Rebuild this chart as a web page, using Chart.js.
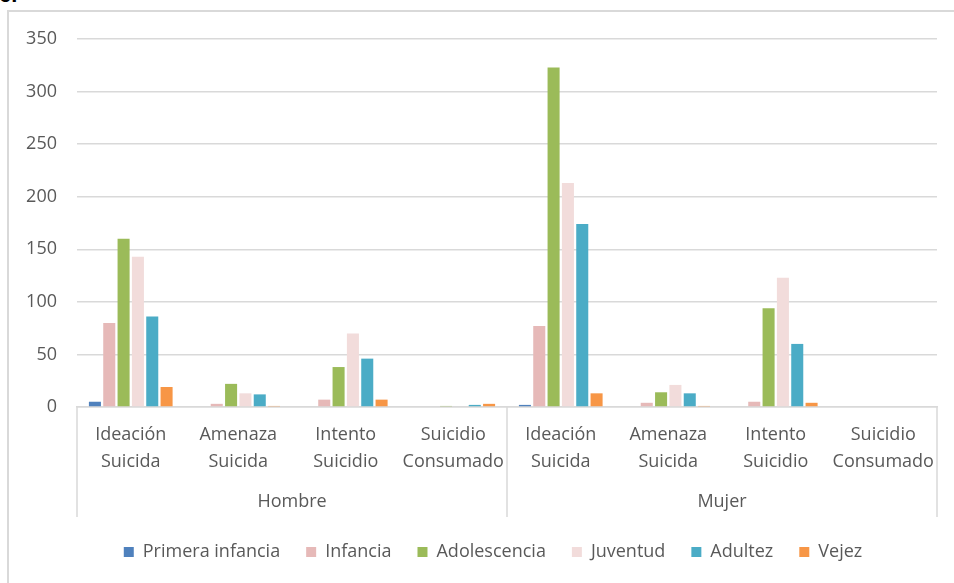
<!DOCTYPE html>
<html>
<head>
<meta charset="utf-8">
<script src="https://cdn.jsdelivr.net/npm/chart.js@4"></script>
<style>
    html, body { margin: 0; padding: 0; background: #ffffff; overflow: hidden; }
    #frame { position: absolute; left: 7px; top: 10px; width: 1100px; height: 700px; border-left: 2px solid #d9d9d9; border-top: 2px solid #d9d9d9; }
    #num { position: absolute; left: -1px; top: -18px; font: bold 22px "Liberation Sans", sans-serif; color: #000; }
    #wrap { position: absolute; left: 0; top: 0; width: 986px; height: 583px; }
</style>
</head>
<body>
<div id="num">6.</div>
<div id="frame"></div>
<div id="wrap"><canvas id="myChart"></canvas></div>
<script>
const categories = [
    ['Ideación', 'Suicida'], ['Amenaza', 'Suicida'], ['Intento', 'Suicidio'], ['Suicidio', 'Consumado'],
    ['Ideación', 'Suicida'], ['Amenaza', 'Suicida'], ['Intento', 'Suicidio'], ['Suicidio', 'Consumado'],
];
const groups = ['Hombre', 'Mujer'];

const primeraInfancia = [5, 0, 0, 0, 2, 0, 0, 0];
const infancia = [80, 3, 7, 0, 77, 4, 5, 0];
const adolescencia = [160, 22, 38, 1, 323, 14, 94, 0];
const juventud = [143, 13, 70, 0, 213, 21, 123, 0];
const adultez = [86, 12, 46, 2, 174, 13, 60, 0];
const vejez = [19, 1, 7, 3, 13, 1, 4, 0];

const textColor = '#595959';
const gridColor = '#d9d9d9';
const font = { family: '"Open Sans", sans-serif', size: 18 };

// vertical separators of the two-level category axis
const groupLines = {
    id: 'groupLines',
    afterDraw: function (chart) {
        const x = chart.scales.x;
        const area = chart.chartArea;
        const mid = (x.getPixelForValue(3) + x.getPixelForValue(4)) / 2;
        const ctx = chart.ctx;
        ctx.save();
        ctx.strokeStyle = gridColor;
        ctx.lineWidth = 1.5;
        [x.left, mid, x.right].forEach(function (px) {
            ctx.beginPath();
            ctx.moveTo(px, area.bottom);
            ctx.lineTo(px, area.bottom + 110);
            ctx.stroke();
        });
        ctx.restore();
    }
};

const data = {
    labels: categories,
    datasets: [
        { label: 'Primera infancia', data: primeraInfancia, backgroundColor: '#4f81bd' },
        { label: 'Infancia', data: infancia, backgroundColor: '#e6b9b8' },
        { label: 'Adolescencia', data: adolescencia, backgroundColor: '#9bbb59' },
        { label: 'Juventud', data: juventud, backgroundColor: '#f2dcdb' },
        { label: 'Adultez', data: adultez, backgroundColor: '#4bacc6' },
        { label: 'Vejez', data: vejez, backgroundColor: '#f79646' },
    ]
};

const config = {
    type: 'bar',
    data: data,
    plugins: [groupLines],
    options: {
        responsive: true,
        maintainAspectRatio: false,
        animation: false,
        categoryPercentage: 0.8,
        barPercentage: 0.84,
        layout: { padding: { top: 39, left: 0, right: 0, bottom: 12 } },
        plugins: {
            legend: {
                position: 'bottom',
                labels: {
                    boxWidth: 10,
                    boxHeight: 10,
                    padding: 26,
                    color: textColor,
                    font: font
                }
            },
            tooltip: { enabled: false }
        },
        scales: {
            x: {
                ticks: { color: textColor, font: { family: font.family, size: 18, lineHeight: 1.5 }, padding: 14, maxRotation: 0, autoSkip: false },
                grid: { display: false, drawTicks: false },
                border: { display: true, color: gridColor, width: 1.5 },
                afterFit: function (scale) { scale.height = 69; }
            },
            x2: {
                type: 'category',
                labels: groups,
                position: 'bottom',
                offset: true,
                ticks: { color: textColor, font: { family: font.family, size: 18, lineHeight: 1.5 }, padding: 12 },
                grid: { display: false, drawTicks: false },
                border: { display: false },
                afterFit: function (scale) { scale.height = 41; }
            },
            y: {
                min: 0,
                max: 350,
                ticks: { stepSize: 50, color: textColor, font: font, padding: 20 },
                grid: { color: gridColor, lineWidth: 1.5, drawTicks: false },
                border: { display: false },
                afterFit: function (scale) { scale.width = 77; }
            },
            y2: {
                position: 'right',
                display: true,
                ticks: { display: false },
                grid: { display: false, drawTicks: false },
                border: { display: false },
                afterFit: function (scale) { scale.width = 49; }
            }
        }
    }
};

const myChart = new Chart(
    document.getElementById('myChart'),
    config
);
</script>
</body>
</html>
